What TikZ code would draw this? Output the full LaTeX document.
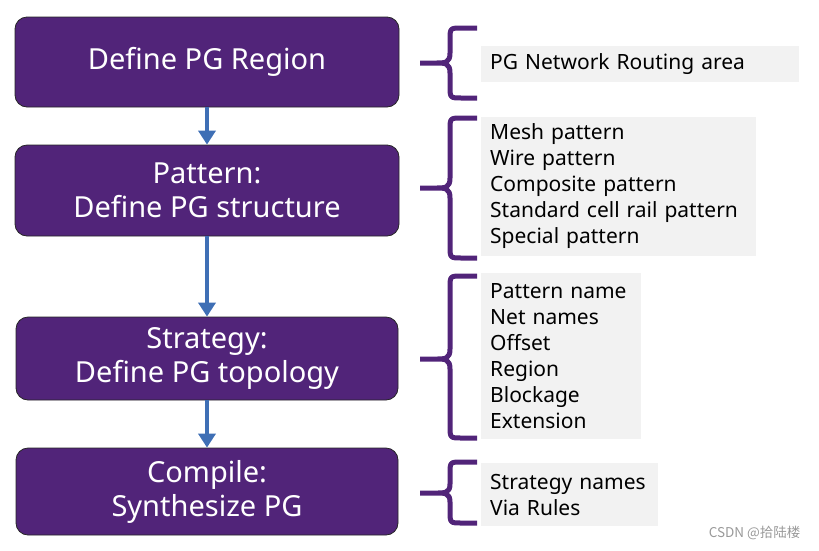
\documentclass[tikz,border=0pt]{standalone}
\usepackage{fontspec}
\setmainfont{Noto Sans}
\newfontfamily\cjkfont{Noto Sans CJK SC}
\usepackage{tikz}
\usetikzlibrary{arrows.meta, positioning, calc}
\definecolor{pgpurple}{HTML}{512479}
\definecolor{pgblue}{HTML}{3F6FB5}
\definecolor{notegray}{HTML}{F2F2F2}

\begin{document}
\begin{tikzpicture}[x=1pt, y=1pt,
  stage/.style={rectangle, rounded corners=12pt, draw=black!85, line width=0.8pt,
                fill=pgpurple, text=white, align=center, minimum width=384pt,
                font=\fontsize{29}{34}\selectfont},
  note/.style={rectangle, fill=notegray, anchor=west, align=left, inner xsep=9pt,
               font=\fontsize{21}{26}\selectfont},
  arrow/.style={-{Triangle[width=17pt, length=14pt]}, pgblue, line width=4pt},
  bracket/.style={pgpurple, line width=5pt, line join=round},
]
\useasboundingbox (0,0) rectangle (819,-550);

\node[stage, minimum height=90pt] (region)   at (207, -62)    {Define PG Region};
\node[stage, minimum height=91pt] (pattern)  at (207, -190.5) {Pattern:\\Define PG structure};
\node[stage, minimum height=83pt, minimum width=382pt] (strategy) at (207, -358.5) {Strategy:\\Define PG topology};
\node[stage, minimum height=87pt, minimum width=382pt] (compile)  at (207, -491.5) {Compile:\\Synthesize PG};

\draw[arrow] (region)   -- (pattern);
\draw[arrow] (pattern)  -- (strategy);
\draw[arrow] (strategy) -- (compile);

\node[note, text width=300pt, minimum height=36pt]  (area)  at (481, -64)  {PG Network Routing area};
\node[note, text width=257pt, minimum height=139pt] (kinds) at (481, -186.5)
  {Mesh pattern\\Wire pattern\\Composite pattern\\Standard cell rail pattern\\Special pattern};
\node[note, text width=142pt, minimum height=166pt] (items) at (481, -356)
  {Pattern name\\Net names\\Offset\\Region\\Blockage\\Extension};
\node[note, text width=159pt, minimum height=63pt]  (rules) at (481, -494.5)
  {Strategy names\\Via Rules};

% brackets: top, tip, bottom
\draw[bracket] (477,-28) -- (462,-28) .. controls (450,-28) .. (450,-40) -- (450,-53)
  .. controls (450,-63) and (445,-63) .. (436,-63) -- (420,-63)
  (436,-63) .. controls (445,-63) and (450,-63) .. (450,-73) -- (450,-86)
  .. controls (450,-98) .. (462,-98) -- (477,-98);
\draw[bracket] (477,-118) -- (462,-118) .. controls (450,-118) .. (450,-130) -- (450,-178)
  .. controls (450,-188) and (445,-188) .. (436,-188) -- (420,-188)
  (436,-188) .. controls (445,-188) and (450,-188) .. (450,-198) -- (450,-246)
  .. controls (450,-258) .. (462,-258) -- (477,-258);
\draw[bracket] (477,-276) -- (462,-276) .. controls (450,-276) .. (450,-288) -- (450,-349)
  .. controls (450,-359) and (445,-359) .. (436,-359) -- (420,-359)
  (436,-359) .. controls (445,-359) and (450,-359) .. (450,-369) -- (450,-426)
  .. controls (450,-438) .. (462,-438) -- (477,-438);
\draw[bracket] (477,-462) -- (462,-462) .. controls (450,-462) .. (450,-474) -- (450,-484)
  .. controls (450,-493) and (445,-493) .. (436,-493) -- (420,-493)
  (436,-493) .. controls (445,-493) and (450,-493) .. (450,-502) -- (450,-511)
  .. controls (450,-523) .. (462,-523) -- (477,-523);

\node[text=black!40, font=\cjkfont\fontsize{13.5}{16}\selectfont, anchor=east] (mark) at (804, -533) {CSDN @拾陆楼};
\end{tikzpicture}
\end{document}
